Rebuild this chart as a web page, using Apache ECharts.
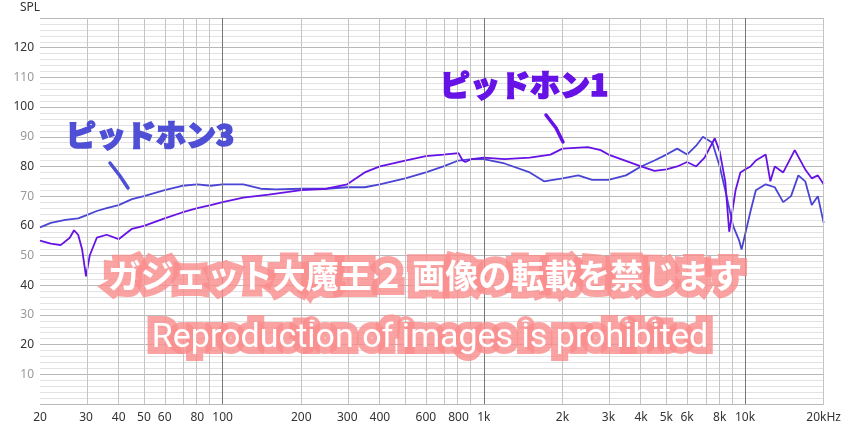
<!DOCTYPE html>
<html>
<head>
<meta charset="utf-8">
<script src="https://cdn.jsdelivr.net/npm/echarts@6.0.0/dist/echarts.min.js"></script>
<style>html,body{margin:0;background:#fff}#main{width:844px;height:426px}</style>
</head>
<body>
<div id="main"></div>
<script>
// 周波数特性 (Hz, dB)
var freqs1 = [20,22,24,26,27,28,29,30,31,33,36,40,45,50,60,70,80,90,100,120,150,200,250,300,350,400,500,600,700,800,830,850,900,1000,1200,1500,1800,2000,2500,2800,3000,4000,4500,5000,5500,6000,6500,7000,7660,8000,8400,8700,9200,9600,10000,10500,11000,12000,12500,13000,14000,15500,17000,18000,19000,20000];
var spl1   = [55,54,53.5,56,58.5,57,52,43,50,56,57,55.5,59,60,62.5,64.5,66,67,68,69.5,70.5,72,72.5,74,78,80,82,83.5,84,84.5,82,81.5,82.5,83,82.5,83,84,86,86.5,85.5,84,80,78.5,79,80,81.5,80,83,89.5,85,75,58,72,78,79,80,82,84,75,80,78,85.5,79,76,77,74];
var freqs3 = [20,22,25,28,30,33,36,40,45,50,60,70,80,90,100,120,140,160,200,250,300,350,400,500,600,700,800,900,1000,1200,1500,1700,2000,2300,2600,3000,3500,4000,4500,5000,5500,6000,6500,6900,7500,8000,8500,9000,9500,9700,10500,11000,12000,13000,14000,15000,16000,17000,18000,19000,20000];
var spl3   = [59.5,61,62,62.5,63.5,65,66,67,69,70,72,73.5,74,73.5,74,74,72.5,72.3,72.5,72.5,73,73,74,76,78,80,82,82.5,82.5,81,78,75,76,77,75.5,75.5,77,80,82,84,86,84,87,90,88,80,70,60,55,52,65,72,74,73,68,70,77,75,67,70,61];
var xTicks = [20,30,40,50,60,80,100,200,300,400,600,800,1000,2000,3000,4000,5000,6000,8000,10000,20000];
var gridFreqs = [20,30,40,50,60,70,80,90,100,200,300,400,500,600,700,800,900,1000,2000,3000,4000,5000,6000,7000,8000,9000,10000,20000];
var majorFreqs = [100,1000,10000];

function lg(f){ return Math.log10(f); }
function pts(fs, vs){ return fs.map(function(f,i){ return [lg(f), vs[i]]; }); }
function fmtF(v){
  var f = Math.round(Math.pow(10, v));
  if (f >= 20000) return '20kHz';
  return f >= 1000 ? (f/1000) + 'k' : String(f);
}

var vLines = gridFreqs.map(function(f){
  var major = majorFreqs.indexOf(f) >= 0;
  return { xAxis: lg(f), lineStyle: { color: major ? '#777' : '#c4c4c4', width: 1, type: 'solid' } };
});

var chart = echarts.init(document.getElementById('main'));
chart.setOption({
  animation: false,
  grid: { left: 40, right: 20, top: 18, bottom: 22 },
  xAxis: {
    type: 'value', min: lg(20), max: lg(20000),
    axisLine: { show: false }, axisTick: { show: false },
    splitLine: { show: false },
    axisLabel: {
      customValues: xTicks.map(lg), formatter: fmtF,
      color: '#333', fontSize: 12, fontFamily: 'Noto Sans', margin: 8
    }
  },
  yAxis: {
    type: 'value', min: 0, max: 130, interval: 10,
    axisLine: { show: false }, axisTick: { show: false },
    axisLabel: {
      fontSize: 12, fontFamily: 'Noto Sans', margin: 6,
      formatter: function(v){
        if (v === 0 || v === 130) return '';
        return (v % 20 === 0) ? '{d|' + v + '}' : '{l|' + v + '}';
      },
      rich: { d: { color: '#333', fontSize: 12 }, l: { color: '#999', fontSize: 12 } }
    },
    splitLine: { lineStyle: { color: '#b8b8b8', width: 1 } },
    minorTick: { show: false, splitNumber: 5 },
    minorSplitLine: { show: true, lineStyle: { color: '#e2e2e2', width: 1 } }
  },
  series: [
    {
      name: 'grid', type: 'line', data: [], silent: true,
      markLine: { silent: true, symbol: 'none', label: { show: false }, data: vLines, animation: false }
    },
    {
      name: 'ピッドホン3', type: 'line', data: pts(freqs3, spl3), showSymbol: false,
      lineStyle: { color: '#4a44d4', width: 1.8 }, z: 3
    },
    {
      name: 'ピッドホン1', type: 'line', data: pts(freqs1, spl1), showSymbol: false,
      lineStyle: { color: '#6612e6', width: 1.8 }, z: 4
    }
  ],
  graphic: [
    { type: 'text', left: 20, top: 2, style: { text: 'SPL', fill: '#333', font: '12px "Noto Sans"' } },
    { type: 'text', x: 440, y: 70, z: 50, style: { text: 'ピッドホン1', fill: '#6612e6',
      fontSize: 30, fontWeight: 900, fontFamily: 'Noto Sans CJK JP', stroke: '#6612e6', lineWidth: 1.5 } },
    { type: 'polyline', z: 50, shape: { points: [[546, 115], [556, 128], [563, 142]] },
      style: { stroke: '#6612e6', lineWidth: 3.5, lineCap: 'round', fill: null } },
    { type: 'text', x: 66, y: 120, z: 50, style: { text: 'ピッドホン3', fill: '#4f4fd6',
      fontSize: 30, fontWeight: 900, fontFamily: 'Noto Sans CJK JP', stroke: '#4f4fd6', lineWidth: 1.5 } },
    { type: 'polyline', z: 50, shape: { points: [[110, 163], [120, 176], [128, 188]] },
      style: { stroke: '#4f4fd6', lineWidth: 3.5, lineCap: 'round', fill: null } },
    { type: 'text', x: 425, y: 275, z: 100, style: { text: 'ガジェット大魔王２ 画像の転載を禁じます', align: 'center', verticalAlign: 'middle',
      fill: '#fff', stroke: 'rgba(250,140,140,0.8)', lineWidth: 14, fontSize: 33, fontWeight: 'bold', fontFamily: 'Noto Sans CJK JP' } },
    { type: 'text', x: 430, y: 338, z: 100, style: { text: 'Reproduction of images is prohibited', align: 'center', verticalAlign: 'middle',
      fill: '#fff', stroke: 'rgba(250,140,140,0.8)', lineWidth: 14, fontSize: 34, fontFamily: '"Liberation Sans Narrow", Roboto' } }
  ]
});
</script>
</body>
</html>
